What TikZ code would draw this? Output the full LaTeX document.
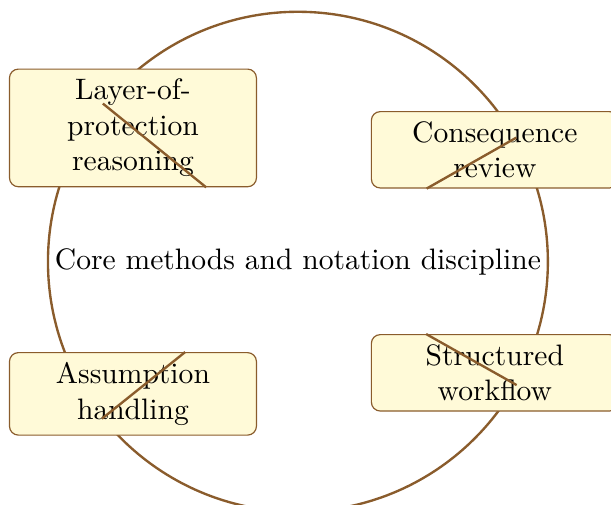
\documentclass[tikz,border=0pt]{standalone}
\usepackage{tikz}
\usetikzlibrary{calc}

\definecolor{ringbrown}{RGB}{138,92,44}
\definecolor{boxfill}{RGB}{255,250,216}

\begin{document}
\begin{tikzpicture}[
        core/.style={circle, draw=ringbrown, thick, minimum size=5.94cm, inner sep=0pt},
        method/.style={draw=ringbrown, fill=boxfill, rounded corners=3pt, text width=2.7cm, align=center},
        link/.style={draw=ringbrown, thick}
    ]
        \useasboundingbox (-3.54,-2.89) rectangle (3.72,3.11);

        \node[core] (core) at (0,0) {Core methods and notation discipline};

        \node[method] (layer) at (-1.96,1.59) {Layer-of-protection reasoning};
        \node[method] (conseq) at (2.34,1.33) {Consequence review};
        \node[method] (assume) at (-1.96,-1.57) {Assumption handling};
        \node[method] (flow) at (2.34,-1.32) {Structured workflow};

        \draw[link] (core) -- (layer);
        \draw[link] (core) -- (conseq);
        \draw[link] (core) -- (assume);
        \draw[link] (core) -- (flow);
\end{tikzpicture}
\end{document}
